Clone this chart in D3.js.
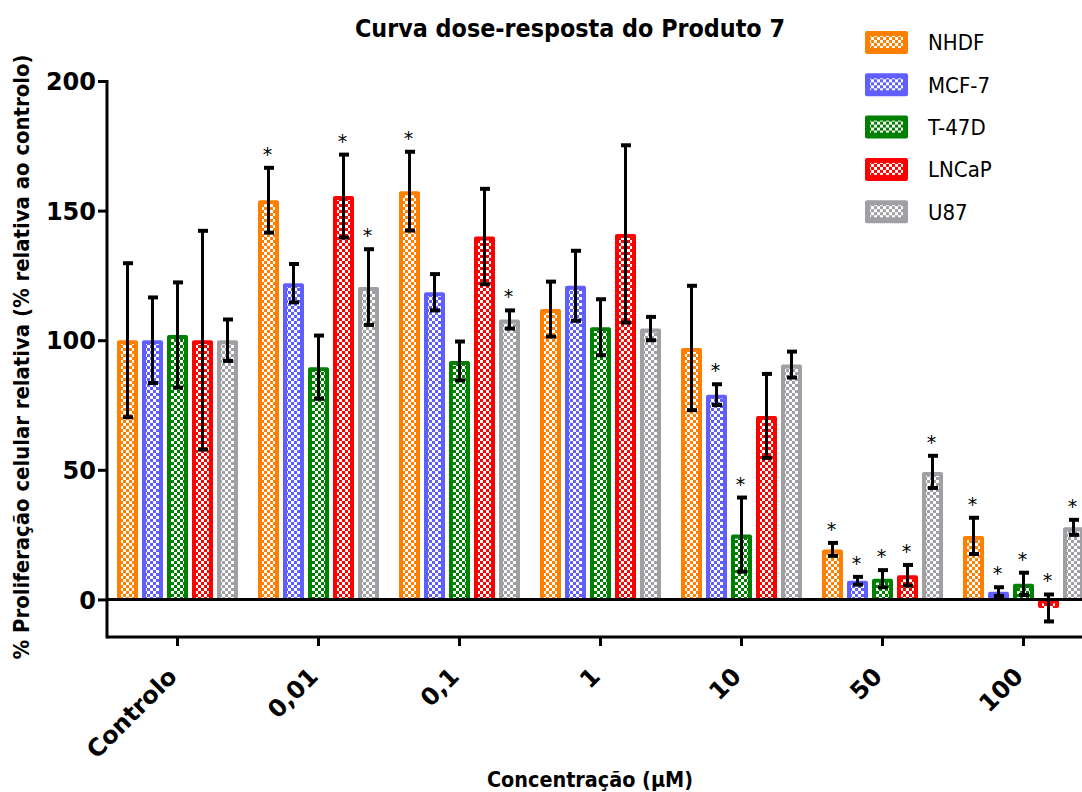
<!DOCTYPE html>
<html>
<head>
<meta charset="utf-8">
<script src="https://cdn.jsdelivr.net/npm/d3@7"></script>
<style>
  body { margin: 0; background: #fff; }
  svg text { fill: #000; }
</style>
</head>
<body>
<div id="chart"></div>
<script>
// doses e linhas celulares
var groups = ["Controlo", "0,01", "0,1", "1", "10", "50", "100"]
var series = ["NHDF", "MCF-7", "T-47D", "LNCaP", "U87"]
var colors = ["#ff8000", "#5f5fff", "#008000", "#ff0000", "#a0a0a4"]

// media por linha (uma lista por linha celular, pela ordem das doses)
var nhdf  = [100, 154, 157.5, 112, 97, 19.3, 24.5]
var mcf7  = [100, 122, 118.5, 121, 79, 7.2, 3]
var t47d  = [102, 89.6, 92, 105, 25, 8, 6]
var lncap = [100, 155.6, 140, 141, 70.8, 9.3, -3.3]
var u87   = [100, 120.5, 108, 104.5, 90.6, 49.2, 27.8]

// erros
var nhdfErr  = [29.7, 12.5, 15.2, 10.6, 24, 2.5, 7]
var mcf7Err  = [16.5, 7.4, 7, 13.5, 4, 1.5, 1.7]
var t47dErr  = [20.3, 12.2, 7.5, 10.8, 14.3, 3.3, 4.3]
var lncapErr = [42.2, 16, 18.4, 34.2, 16.2, 4, 5.2]
var u87Err   = [8, 14.6, 3.5, 4.5, 5, 6.2, 2.9]

// asterisco de significancia
var nhdfSig  = [0, 1, 1, 0, 0, 1, 1]
var mcf7Sig  = [0, 0, 0, 0, 1, 1, 1]
var t47dSig  = [0, 0, 0, 0, 1, 1, 1]
var lncapSig = [0, 1, 0, 0, 0, 1, 1]
var u87Sig   = [0, 1, 1, 0, 0, 1, 1]

var yTicks = [0, 50, 100, 150, 200]

var means = [nhdf, mcf7, t47d, lncap, u87]
var errs = [nhdfErr, mcf7Err, t47dErr, lncapErr, u87Err]
var sigs = [nhdfSig, mcf7Sig, t47dSig, lncapSig, u87Sig]

var data = []
groups.forEach(function (g, gi) {
    series.forEach(function (s, si) {
        data.push({ group: g, serie: s, idx: si, value: means[si][gi], err: errs[si][gi], sig: sigs[si][gi] })
    })
})

var width = 1082,
    height = 792

var svg = d3.select("#chart")
    .append("svg")
    .attr("width", width)
    .attr("height", height)

var axisX = 107,
    bottomY = 637

var y = d3.scaleLinear()
    .domain([-14.5, 200])
    .range([bottomY, 81])

var x0 = d3.scaleBand()
    .domain(groups)
    .range([axisX, axisX + 141 * 7])
    .paddingInner(16 / 141)
    .paddingOuter(8 / 141)

var x1 = d3.scaleBand()
    .domain(series)
    .range([0, x0.bandwidth()])
    .paddingInner(0.16)
    .paddingOuter(0.08)

// padrao axadrezado branco
var defs = svg.append("defs")
defs.append("pattern")
    .attr("id", "xadrez")
    .attr("patternUnits", "userSpaceOnUse")
    .attr("width", 6)
    .attr("height", 6)
    .call(function (p) {
        p.append("rect").attr("x", 0).attr("y", 0).attr("width", 3).attr("height", 3).attr("fill", "#fff")
        p.append("rect").attr("x", 3).attr("y", 3).attr("width", 3).attr("height", 3).attr("fill", "#fff")
    })

var bars = svg.append("g")

function barTop(d) { return y(Math.max(0, d.value)) }
function barH(d) { return Math.abs(y(d.value) - y(0)) }
function barX(d) { return x0(d.group) + x1(d.serie) }

bars.selectAll("rect.bar")
    .data(data)
    .enter()
    .append("rect")
    .attr("class", "bar")
    .attr("x", barX)
    .attr("y", barTop)
    .attr("width", x1.bandwidth())
    .attr("height", barH)
    .attr("rx", 2)
    .attr("fill", function (d) { return colors[d.idx] })

bars.selectAll("rect.pat")
    .data(data.filter(function (d) { return barH(d) > 8 }))
    .enter()
    .append("rect")
    .attr("class", "pat")
    .attr("x", function (d) { return barX(d) + 4 })
    .attr("y", function (d) { return barTop(d) + 4 })
    .attr("width", x1.bandwidth() - 8)
    .attr("height", function (d) { return barH(d) - 4 })
    .attr("fill", "url(#xadrez)")

// barras de erro
var eb = svg.append("g").attr("stroke", "#000")
data.forEach(function (d) {
    var cx = barX(d) + x1.bandwidth() / 2
    var t = y(d.value + d.err), b = y(d.value - d.err)
    eb.append("line").attr("x1", cx).attr("x2", cx).attr("y1", t).attr("y2", b).attr("stroke-width", 3)
    eb.append("line").attr("x1", cx - 4.5).attr("x2", cx + 5.5).attr("y1", t).attr("y2", t).attr("stroke-width", 4)
    eb.append("line").attr("x1", cx - 4.5).attr("x2", cx + 5.5).attr("y1", b).attr("y2", b).attr("stroke-width", 4)
})

svg.append("g")
    .selectAll("text")
    .data(data.filter(function (d) { return d.sig }))
    .enter()
    .append("text")
    .attr("x", function (d) { return barX(d) + x1.bandwidth() / 2 - 1 })
    .attr("y", function (d) { return y(d.value + d.err) - 7 })
    .attr("text-anchor", "middle")
    .style("font", "19px 'DejaVu Sans'")
    .text("*")

// eixos
var yAxis = svg.append("g")
    .attr("transform", "translate(" + axisX + ",0)")
    .call(d3.axisLeft(y).tickValues(yTicks).tickSize(9).tickPadding(2).tickFormat(d3.format("d")))
yAxis.select(".domain").remove()
yAxis.selectAll("line").attr("stroke-width", 3)
yAxis.selectAll("text").style("font", "bold 24px 'DejaVu Sans'").attr("dy", "0.36em")

var xAxis = svg.append("g")
    .attr("transform", "translate(0," + bottomY + ")")
    .call(d3.axisBottom(x0).tickSize(9).tickSizeOuter(0))
xAxis.select(".domain").remove()
xAxis.selectAll("line").attr("stroke-width", 3)
xAxis.selectAll("text")
    .style("font", "bold 24px 'DejaVu Sans'")
    .attr("text-anchor", "end")
    .attr("x", 0)
    .attr("y", 0)
    .attr("dy", 0)
    .attr("transform", "translate(1,41) rotate(-45)")

svg.append("line")
    .attr("x1", axisX).attr("x2", axisX)
    .attr("y1", y(200) - 1).attr("y2", bottomY + 1.5)
    .attr("stroke", "#000").attr("stroke-width", 3)
svg.append("line")
    .attr("x1", axisX).attr("x2", width)
    .attr("y1", bottomY).attr("y2", bottomY)
    .attr("stroke", "#000").attr("stroke-width", 3)
svg.append("line")
    .attr("x1", axisX).attr("x2", width)
    .attr("y1", y(0)).attr("y2", y(0))
    .attr("stroke", "#000").attr("stroke-width", 3)

// titulos
svg.append("text")
    .attr("x", 570).attr("y", 37)
    .attr("text-anchor", "middle")
    .attr("textLength", 430)
    .attr("lengthAdjust", "spacingAndGlyphs")
    .style("font", "bold 25px 'DejaVu Sans Condensed', 'DejaVu Sans'")
    .text("Curva dose-resposta do Produto 7")

svg.append("text")
    .attr("transform", "translate(29,357) rotate(-90)")
    .attr("text-anchor", "middle")
    .attr("textLength", 605)
    .attr("lengthAdjust", "spacingAndGlyphs")
    .style("font", "bold 22px 'DejaVu Sans Condensed', 'DejaVu Sans'")
    .text("% Proliferação celular relativa (% relativa ao controlo)")

svg.append("text")
    .attr("x", 590).attr("y", 787)
    .attr("text-anchor", "middle")
    .attr("textLength", 206)
    .attr("lengthAdjust", "spacingAndGlyphs")
    .style("font", "bold 21px 'DejaVu Sans Condensed', 'DejaVu Sans'")
    .text("Concentração (µM)")

// legenda
var legend = svg.append("g").attr("transform", "translate(865,31)")
series.forEach(function (s, i) {
    var g = legend.append("g").attr("transform", "translate(0," + (i * 42.3) + ")")
    g.append("rect").attr("width", 43).attr("height", 23).attr("rx", 2).attr("fill", colors[i])
    g.append("rect").attr("x", 5).attr("y", 5).attr("width", 33).attr("height", 12).attr("fill", "url(#xadrez)")
    g.append("text").attr("x", 63).attr("y", 11.5).attr("dy", "0.36em")
        .style("font", "22px 'DejaVu Sans Condensed', 'DejaVu Sans'")
        .text(s)
})
</script>
</body>
</html>
